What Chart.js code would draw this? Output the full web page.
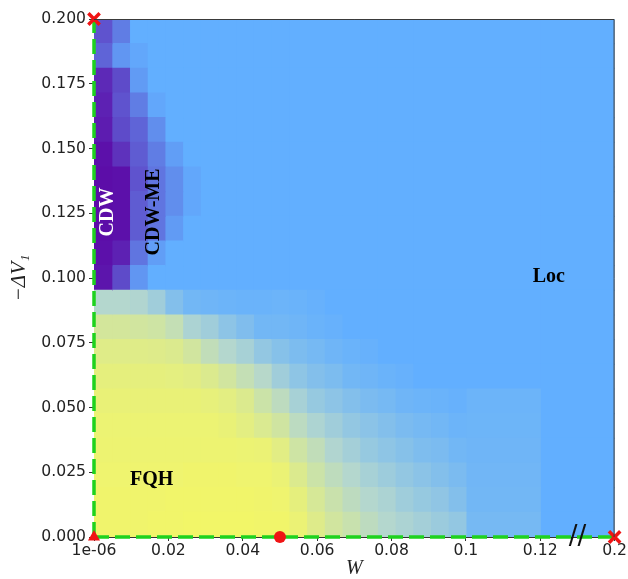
<!DOCTYPE html>
<html>
<head>
<meta charset="utf-8">
<script src="https://cdn.jsdelivr.net/npm/chart.js@4.4.1/dist/chart.umd.min.js"></script>
<style>
  html, body { margin: 0; padding: 0; background: #fff; }
  canvas { display: block; }
</style>
</head>
<body>
<canvas id="phaseChart" width="628" height="579"></canvas>
<script>
// disorder W per column (last two columns sit right of 0.1, the 0.2 one past the axis break)
const wValues = [0.000001, 0.005, 0.01, 0.015, 0.02, 0.025, 0.03, 0.035, 0.04, 0.045, 0.05,
  0.055, 0.06, 0.065, 0.07, 0.075, 0.08, 0.085, 0.09, 0.095, 0.1, 0.12, 0.2];
// -dV1 per row, top to bottom
const vValues = [0.2, 0.19, 0.18, 0.17, 0.16, 0.15, 0.14, 0.13, 0.12, 0.11, 0.1,
  0.09, 0.08, 0.07, 0.06, 0.05, 0.04, 0.03, 0.02, 0.01, 0];

const xTickValues = [0.000001, 0.02, 0.04, 0.06, 0.08, 0.1, 0.12, 0.2];
const xTickLabels = ['1e-06', '0.02', '0.04', '0.06', '0.08', '0.1', '0.12', '0.2'];
const yTickValues = [0, 0.025, 0.05, 0.075, 0.1, 0.125, 0.15, 0.175, 0.2];

// CDW weight of each cell (rows top to bottom, columns as wValues)
const cdwWeight = [
  [0.55,0.3,0,0,0,0,0,0,0,0,0,0,0,0,0,0,0,0,0,0,0,0,0],
  [0.45,0.15,0.05,0,0,0,0,0,0,0,0,0,0,0,0,0,0,0,0,0,0,0,0],
  [0.8,0.6,0.12,0,0,0,0,0,0,0,0,0,0,0,0,0,0,0,0,0,0,0,0],
  [0.85,0.55,0.3,0.05,0,0,0,0,0,0,0,0,0,0,0,0,0,0,0,0,0,0,0],
  [0.88,0.6,0.45,0.2,0,0,0,0,0,0,0,0,0,0,0,0,0,0,0,0,0,0,0],
  [0.95,0.75,0.5,0.3,0.1,0,0,0,0,0,0,0,0,0,0,0,0,0,0,0,0,0,0],
  [0.97,0.95,0.55,0.35,0.2,0.05,0,0,0,0,0,0,0,0,0,0,0,0,0,0,0,0,0],
  [0.97,0.95,0.5,0.35,0.2,0.05,0,0,0,0,0,0,0,0,0,0,0,0,0,0,0,0,0],
  [0.97,0.95,0.5,0.35,0.12,0,0,0,0,0,0,0,0,0,0,0,0,0,0,0,0,0,0],
  [0.95,0.85,0.35,0.1,0,0,0,0,0,0,0,0,0,0,0,0,0,0,0,0,0,0,0],
  [0.92,0.6,0.15,0,0,0,0,0,0,0,0,0,0,0,0,0,0,0,0,0,0,0,0],
  [0,0,0,0,0,0,0,0,0,0,0,0,0,0,0,0,0,0,0,0,0,0,0],
  [0,0,0,0,0,0,0,0,0,0,0,0,0,0,0,0,0,0,0,0,0,0,0],
  [0,0,0,0,0,0,0,0,0,0,0,0,0,0,0,0,0,0,0,0,0,0,0],
  [0,0,0,0,0,0,0,0,0,0,0,0,0,0,0,0,0,0,0,0,0,0,0],
  [0,0,0,0,0,0,0,0,0,0,0,0,0,0,0,0,0,0,0,0,0,0,0],
  [0,0,0,0,0,0,0,0,0,0,0,0,0,0,0,0,0,0,0,0,0,0,0],
  [0,0,0,0,0,0,0,0,0,0,0,0,0,0,0,0,0,0,0,0,0,0,0],
  [0,0,0,0,0,0,0,0,0,0,0,0,0,0,0,0,0,0,0,0,0,0,0],
  [0,0,0,0,0,0,0,0,0,0,0,0,0,0,0,0,0,0,0,0,0,0,0],
  [0,0,0,0,0,0,0,0,0,0,0,0,0,0,0,0,0,0,0,0,0,0,0]
];

// FQH weight of each cell
const fqhWeight = [
  [0,0,0,0,0,0,0,0,0,0,0,0,0,0,0,0,0,0,0,0,0,0,0],
  [0,0,0,0,0,0,0,0,0,0,0,0,0,0,0,0,0,0,0,0,0,0,0],
  [0,0,0,0,0,0,0,0,0,0,0,0,0,0,0,0,0,0,0,0,0,0,0],
  [0,0,0,0,0,0,0,0,0,0,0,0,0,0,0,0,0,0,0,0,0,0,0],
  [0,0,0,0,0,0,0,0,0,0,0,0,0,0,0,0,0,0,0,0,0,0,0],
  [0,0,0,0,0,0,0,0,0,0,0,0,0,0,0,0,0,0,0,0,0,0,0],
  [0,0,0,0,0,0,0,0,0,0,0,0,0,0,0,0,0,0,0,0,0,0,0],
  [0,0,0,0,0,0,0,0,0,0,0,0,0,0,0,0,0,0,0,0,0,0,0],
  [0,0,0,0,0,0,0,0,0,0,0,0,0,0,0,0,0,0,0,0,0,0,0],
  [0,0,0,0,0,0,0,0,0,0,0,0,0,0,0,0,0,0,0,0,0,0,0],
  [0,0,0,0,0,0,0,0,0,0,0,0,0,0,0,0,0,0,0,0,0,0,0],
  [0.5,0.5,0.48,0.38,0.2,0.1,0.08,0.06,0.05,0.05,0.06,0.05,0.03,0,0,0,0,0,0,0,0,0,0],
  [0.74,0.74,0.72,0.7,0.62,0.45,0.38,0.26,0.18,0.1,0.1,0.08,0.05,0.03,0,0,0,0,0,0,0,0,0],
  [0.83,0.83,0.83,0.82,0.8,0.72,0.6,0.5,0.42,0.3,0.22,0.16,0.12,0.08,0.05,0.03,0,0,0,0,0,0,0],
  [0.88,0.88,0.88,0.88,0.87,0.85,0.8,0.72,0.62,0.52,0.38,0.27,0.2,0.16,0.1,0.08,0.05,0.03,0,0,0,0,0],
  [0.91,0.91,0.91,0.91,0.91,0.91,0.89,0.86,0.8,0.68,0.57,0.42,0.32,0.26,0.2,0.15,0.12,0.08,0.06,0.05,0.03,0.06,0],
  [0.93,0.93,0.93,0.93,0.93,0.93,0.93,0.91,0.86,0.79,0.71,0.56,0.46,0.38,0.3,0.25,0.2,0.15,0.12,0.1,0.06,0.07,0],
  [0.94,0.94,0.94,0.94,0.94,0.94,0.94,0.94,0.93,0.92,0.85,0.7,0.6,0.48,0.4,0.32,0.27,0.22,0.17,0.15,0.1,0.08,0],
  [0.95,0.95,0.95,0.95,0.95,0.96,0.96,0.96,0.95,0.95,0.92,0.8,0.68,0.58,0.5,0.42,0.36,0.3,0.25,0.2,0.15,0.09,0],
  [0.96,0.96,0.96,0.96,0.97,0.97,0.97,0.97,0.97,0.96,0.95,0.88,0.76,0.66,0.57,0.5,0.45,0.37,0.32,0.28,0.2,0.1,0],
  [0.96,0.96,0.96,0.97,0.97,0.98,0.98,0.98,0.98,0.97,0.97,0.92,0.82,0.72,0.65,0.57,0.5,0.45,0.4,0.35,0.3,0.12,0]
];

// special points
const crossPoints = [[0.000001, 0.2], [0.2, 0]];
const trianglePoints = [[0.000001, 0]];
const circlePoints = [[0.05, 0]];

const phaseNames = ['CDW', 'CDW-ME', 'FQH', 'Loc'];

// ---- colours ----
const BLUE = [98, 175, 255];
const MID = [180, 215, 206];   // pale cyan halfway between Loc and FQH
const YELLOW = [245, 247, 100];
const PURPLE = [92, 8, 165];

function mix(a, b, t) {
  return a.map((v, i) => v + (b[i] - v) * t);
}

function cellColor(p, f) {
  const base = f <= 0.5 ? mix(BLUE, MID, f / 0.5) : mix(MID, YELLOW, (f - 0.5) / 0.5);
  const rgb = mix(base, PURPLE, p).map(Math.round);
  return `rgb(${rgb[0]},${rgb[1]},${rgb[2]})`;
}

// x axis is linear up to 0.12, then broken so 0.2 lands one tick further
const BREAK_AT = 0.12, BREAK_SPAN = 0.02, BREAK_END = 0.2;
function axisPos(w) {
  return w <= BREAK_AT ? w : BREAK_AT + (w - BREAK_AT) / (BREAK_END - BREAK_AT) * BREAK_SPAN;
}

// fine columns share [0, 0.1] evenly (imshow-like), the coarse ones fill up to next value
const fineMax = 0.1;
const fineCount = wValues.filter(w => w <= fineMax).length;
function columnEdges(c) {
  if (c < fineCount) {
    const step = fineMax / fineCount;
    return [c * step, (c + 1) * step];
  }
  return [axisPos(wValues[c - 1]), axisPos(wValues[c])];
}

const cellSets = wValues.map((w, c) => ({
  type: 'bar',
  indexAxis: 'y',
  xAxisID: 'x',
  yAxisID: 'row',
  data: vValues.map(() => columnEdges(c)),
  backgroundColor: vValues.map((v, r) => cellColor(cdwWeight[r][c], fqhWeight[r][c])),
  borderWidth: 0,
  barPercentage: 1,
  categoryPercentage: 1,
  grouped: false,
  inflateAmount: 0.6,
  order: 10
}));

const vMax = Math.max(...vValues), vMin = Math.min(...vValues);
const wFirst = wValues[0], wLast = wValues[wValues.length - 1];
const GREEN = '#1ed21e';

const lineSets = [
  { data: [{ x: axisPos(wFirst), y: vMin }, { x: axisPos(wFirst), y: vMax }] },
  { data: [{ x: axisPos(wFirst), y: vMin }, { x: axisPos(wLast), y: vMin }] }
].map(d => ({
  type: 'line',
  xAxisID: 'x',
  yAxisID: 'y',
  data: d.data,
  borderColor: GREEN,
  borderWidth: 3.5,
  borderDash: [15, 6],
  pointRadius: 0,
  clip: false,
  order: 2
}));

function markerSet(points, style, radius) {
  return {
    type: 'line',
    xAxisID: 'x',
    yAxisID: 'y',
    data: points.map(p => ({ x: axisPos(p[0]), y: p[1] })),
    showLine: false,
    pointStyle: style,
    pointRadius: radius,
    pointBackgroundColor: '#f01414',
    pointBorderColor: '#f01414',
    pointBorderWidth: style === 'crossRot' ? 3.5 : 0,
    clip: false,
    order: 0
  };
}

const markerSets = [
  markerSet(crossPoints, 'crossRot', 8),
  markerSet(trianglePoints, 'triangle', 7),
  markerSet(circlePoints, 'circle', 6)
];

// where the phase names go (data coords) and how they look
const phaseLabelStyle = {
  'CDW':    { x: 0.0034, y: 0.1255, color: '#ffffff', rotate: true },
  'CDW-ME': { x: 0.0157, y: 0.1255, color: '#000000', rotate: true },
  'FQH':    { x: 0.0155, y: 0.0226, color: '#000000', rotate: false },
  'Loc':    { x: 0.1223, y: 0.1008, color: '#000000', rotate: false }
};

const decorPlugin = {
  id: 'decor',
  afterDatasetsDraw(chart) {
    const { ctx, chartArea, scales } = chart;
    ctx.save();
    // top and right frame
    ctx.strokeStyle = '#3a3a3a';
    ctx.lineWidth = 1;
    ctx.beginPath();
    ctx.moveTo(chartArea.left, chartArea.top + 0.5);
    ctx.lineTo(chartArea.right - 0.5, chartArea.top + 0.5);
    ctx.lineTo(chartArea.right - 0.5, chartArea.bottom);
    ctx.stroke();

    // phase names
    ctx.font = 'bold 20px "Liberation Serif", "Times New Roman", serif';
    ctx.textAlign = 'center';
    ctx.textBaseline = 'middle';
    phaseNames.forEach(name => {
      const s = phaseLabelStyle[name];
      const px = scales.x.getPixelForValue(s.x);
      const py = scales.y.getPixelForValue(s.y);
      ctx.save();
      ctx.translate(px, py);
      if (s.rotate) ctx.rotate(-Math.PI / 2);
      ctx.fillStyle = s.color;
      ctx.fillText(name, 0, 1);
      ctx.restore();
    });

    // axis break mark
    const bx = scales.x.getPixelForValue((axisPos(BREAK_AT) + axisPos(BREAK_END)) / 2);
    const by = scales.y.getPixelForValue(0);
    ctx.font = '26px "DejaVu Sans"';
    ctx.fillStyle = '#111';
    ctx.fillText('//', bx, by);
    ctx.restore();
  }
};

Chart.defaults.font.family = '"DejaVu Sans", sans-serif';
Chart.defaults.color = '#222';

new Chart(document.getElementById('phaseChart'), {
  type: 'bar',
  data: {
    labels: vValues.map(v => v.toFixed(2)),
    datasets: [...markerSets, ...lineSets, ...cellSets]
  },
  options: {
    responsive: false,
    animation: false,
    devicePixelRatio: 1,
    events: [],
    layout: { padding: { top: 19, right: 13, left: 0, bottom: 0 } },
    plugins: {
      legend: { display: false },
      tooltip: { enabled: false }
    },
    scales: {
      x: {
        type: 'linear',
        position: 'bottom',
        min: 0,
        max: axisPos(wLast),
        offset: false,
        afterBuildTicks: scale => {
          scale.ticks = xTickValues.map(v => ({ value: axisPos(v) }));
        },
        afterFit: scale => { scale.height = 42; },
        ticks: {
          autoSkip: false,
          maxRotation: 0,
          padding: 1,
          font: { size: 15.6 },
          color: '#222',
          callback: (val, i) => xTickLabels[i]
        },
        grid: { drawOnChartArea: false, drawTicks: true, tickLength: 4, color: '#333', offset: false },
        border: { display: true, color: '#333', width: 1 },
        title: {
          display: true,
          text: 'W',
          color: '#222',
          font: { family: '"Liberation Serif", serif', style: 'italic', size: 20, lineHeight: 1 },
          padding: { top: 0, bottom: 0 }
        }
      },
      y: {
        type: 'linear',
        position: 'left',
        min: 0,
        max: 0.2,
        offset: false,
        afterBuildTicks: scale => {
          scale.ticks = yTickValues.map(v => ({ value: v }));
        },
        afterFit: scale => { scale.width = 94; },
        ticks: {
          autoSkip: false,
          padding: 3,
          font: { size: 15.6 },
          color: '#222',
          callback: v => v.toFixed(3)
        },
        grid: { drawOnChartArea: false, drawTicks: true, tickLength: 5, color: '#333', offset: false },
        border: { display: true, color: '#333', width: 1 },
        title: {
          display: true,
          text: '\u2212\u0394V\u2081',
          color: '#222',
          font: { family: '"Liberation Serif", serif', style: 'italic', size: 21, lineHeight: 1 },
          padding: { top: 9, bottom: 0 }
        }
      },
      row: {
        type: 'category',
        axis: 'y',
        position: 'left',
        display: false,
        offset: true,
        grid: { offset: true }
      }
    }
  },
  plugins: [decorPlugin]
});
</script>
</body>
</html>
